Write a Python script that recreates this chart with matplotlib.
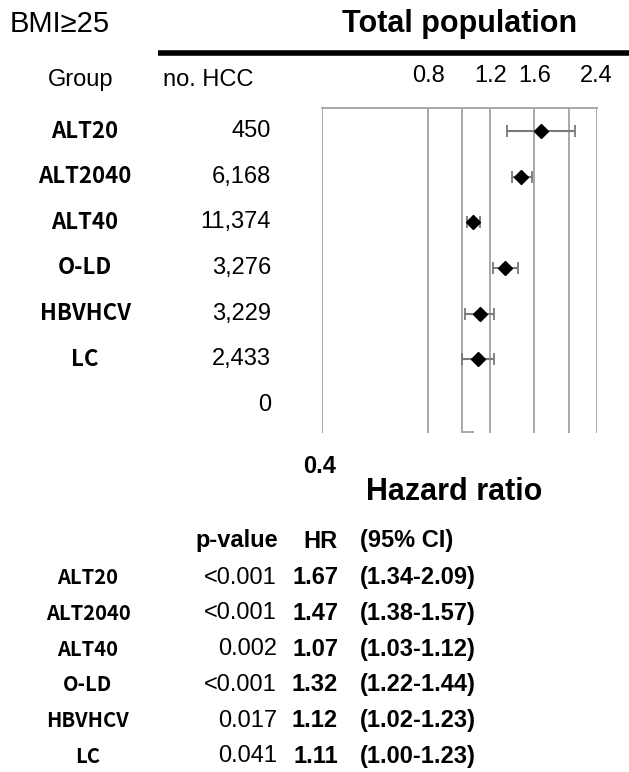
import matplotlib
matplotlib.use("Agg")
import matplotlib.pyplot as plt
import matplotlib.transforms as mtransforms
import numpy as np

plt.rcParams['font.family'] = ['Liberation Sans', 'DejaVu Sans']

# 数据
groups = ['ALT20', 'ALT2040', 'ALT40', 'O-LD', 'HBVHCV', 'LC']
n_hcc = ['450', '6,168', '11,374', '3,276', '3,229', '2,433', '0']
hr = np.array([1.67, 1.47, 1.07, 1.32, 1.12, 1.11])
ci_low = np.array([1.34, 1.38, 1.03, 1.22, 1.02, 1.00])
ci_high = np.array([2.09, 1.57, 1.12, 1.44, 1.23, 1.23])
p_values = ['<0.001', '<0.001', '0.002', '<0.001', '0.017', '0.041']
top_ticks = [0.8, 1.2, 1.6, 2.4]
grid_lines = [0.4, 0.8, 1.0, 1.2, 1.6, 2.0, 2.4]

W, H = 629, 772
fig = plt.figure(figsize=(W / 100, H / 100), dpi=100)


def fx(px):
    return px / W


def fy(py):
    return 1 - py / H


label_font = ['Noto Sans CJK KR', 'DejaVu Sans']
line_gray = '#a8a8a8'

# 森林图坐标轴
ax_l, ax_r, ax_t, ax_b = 321.7, 596.7, 107.5, 433
ax = fig.add_axes([fx(ax_l), fy(ax_b), fx(ax_r) - fx(ax_l), fy(ax_t) - fy(ax_b)])
ax.set_xscale('log')
ax.set_xlim(0.4, 2.4)
row_gap = 45.6
ax.set_ylim(6 + (ax_b - 405) / row_gap, -(131 - ax_t) / row_gap)
for s in ['left', 'right', 'bottom']:
    ax.spines[s].set_visible(False)
ax.spines['top'].set_color(line_gray)
ax.spines['top'].set_linewidth(1.4)
ybot = ax.get_ylim()[0]
for g in grid_lines:
    ax.axvline(g, color=line_gray, linewidth=1.4, zorder=1)
# 1.0 参考线底部小钩
ax.plot([1.0, 1.07], [ybot - 0.02, ybot - 0.02], color=line_gray, linewidth=1.4,
        clip_on=False, zorder=1)

ax.xaxis.set_minor_locator(matplotlib.ticker.NullLocator())
ax.set_xticks(top_ticks)
ax.set_xticklabels([f'{t:.1f}' for t in top_ticks])
ax.tick_params(axis='x', top=False, bottom=False, labeltop=True, labelbottom=False,
               labelsize=17, pad=11)
ax.set_yticks([])

rows = np.arange(len(groups))
ax.errorbar(hr, rows, xerr=[hr - ci_low, ci_high - hr], fmt='none',
            ecolor='#7a7a7a', elinewidth=1.5, capsize=4.5, capthick=1.3, zorder=3)
ax.plot(hr, rows, linestyle='none', marker='D', markersize=7.5,
        color='black', zorder=4)

ax.text(0.395, ybot + (466 - ax_b) / row_gap, '0.4', fontsize=17, fontweight='bold',
        ha='center', va='center')
fig.text(fx(454), fy(492), 'Hazard ratio', fontsize=22, fontweight='bold',
         ha='center', va='center')

# 标题
fig.text(fx(10), fy(24), 'BMI≥25', fontsize=21, ha='left', va='center')
fig.text(fx(460), fy(24), 'Total population', fontsize=22, fontweight='bold',
         ha='center', va='center')
fig.add_artist(plt.Line2D([fx(158), fx(629)], [fy(53), fy(53)], color='black',
                          linewidth=4, solid_capstyle='butt'))
fig.text(fx(81), fy(80), 'Group', fontsize=17, ha='center', va='center')
fig.text(fx(163), fy(80), 'no. HCC', fontsize=17, ha='left', va='center')

# 左侧表格
trans = mtransforms.blended_transform_factory(fig.transFigure, ax.transData)
for i, g in enumerate(groups):
    fig.text(fx(85), i, g, transform=trans, fontsize=16, fontweight='bold',
             family=label_font, ha='center', va='center')
for i, n in enumerate(n_hcc):
    fig.text(fx(271), i, n, transform=trans, fontsize=17, ha='right', va='center')

# 底部表格
fig.text(fx(278), fy(541), 'p-value', fontsize=17, fontweight='bold', ha='right', va='center')
fig.text(fx(320), fy(541), 'HR', fontsize=17, fontweight='bold', ha='center', va='center')
fig.text(fx(360), fy(541), '(95% CI)', fontsize=17, fontweight='bold', ha='left', va='center')
tab_y0, tab_gap = 577.5, 35.8
for i, g in enumerate(groups):
    y = fy(tab_y0 + i * tab_gap)
    fig.text(fx(88), y, g, fontsize=14.5, fontweight='bold', family=label_font,
             ha='center', va='center')
    fig.text(fx(277), y, p_values[i], fontsize=17, ha='right', va='center')
    fig.text(fx(338), y, f'{hr[i]:.2f}', fontsize=17, fontweight='bold', ha='right', va='center')
    fig.text(fx(360), y, f'({ci_low[i]:.2f}-{ci_high[i]:.2f})', fontsize=17,
             fontweight='bold', ha='left', va='center')

fig.savefig('out.png', dpi=100)
